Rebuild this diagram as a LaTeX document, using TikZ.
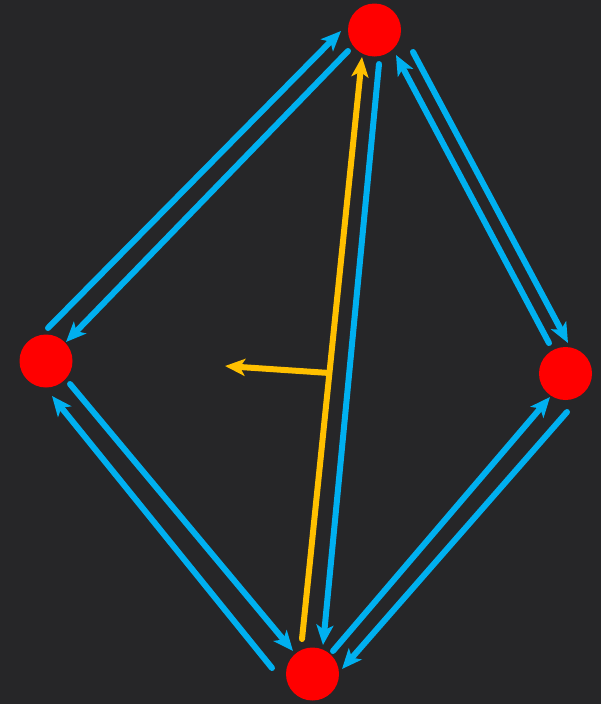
\documentclass[tikz,border=0pt]{standalone}
\usetikzlibrary{arrows.meta}
\definecolor{bgc}{RGB}{38,38,40}
\definecolor{bluec}{RGB}{0,176,240}
\definecolor{yelc}{RGB}{255,192,0}
\definecolor{redc}{RGB}{255,0,0}
\begin{document}
\begin{tikzpicture}[x=1pt,y=-1pt,
  vertex/.style={circle,fill=redc,draw=none,minimum size=53pt,inner sep=0pt},
  bluearrow/.style={draw=bluec,line width=6pt,line cap=round,-{Stealth[length=20pt,width=17pt,inset=5pt]}},
  yelarrow/.style={draw=yelc,line width=6pt,line cap=round,-{Stealth[length=20pt,width=17pt,inset=5pt]}}]
\fill[bgc] (0,0) rectangle (601,704);
\useasboundingbox (0,0) rectangle (601,704);
\node[vertex] (top) at (374.5,30) {};
\node[vertex] (left) at (46,361) {};
\node[vertex] (right) at (565.5,373.5) {};
\node[vertex] (bottom) at (312.5,674) {};
% top-left pair
\coordinate (a1) at (48,328); \coordinate (a2) at (341,31);
\coordinate (b1) at (348,51); \coordinate (b2) at (66,342);
% top-right pair
\coordinate (c1) at (413,52); \coordinate (c2) at (568,343);
\coordinate (d1) at (549,343); \coordinate (d2) at (396,55);
% right-bottom pair
\coordinate (e1) at (333,651); \coordinate (e2) at (550,397);
\coordinate (f1) at (567,412); \coordinate (f2) at (342,669);
% left-bottom pair
\coordinate (g1) at (70,384); \coordinate (g2) at (293,651);
\coordinate (h1) at (272,668); \coordinate (h2) at (52,396);
% middle
\coordinate (m1) at (379,64); \coordinate (m2) at (323,645);
\coordinate (y1) at (302,639); \coordinate (y2) at (362,57);
\coordinate (yb) at (329.3,373); \coordinate (yt) at (225,366);
\draw[bluearrow] (a1) -- (a2);
\draw[bluearrow] (b1) -- (b2);
\draw[bluearrow] (c1) -- (c2);
\draw[bluearrow] (d1) -- (d2);
\draw[bluearrow] (e1) -- (e2);
\draw[bluearrow] (f1) -- (f2);
\draw[bluearrow] (g1) -- (g2);
\draw[bluearrow] (h1) -- (h2);
\draw[bluearrow] (m1) -- (m2);
\draw[yelarrow] (y1) -- (y2);
\draw[yelarrow,line cap=butt] (yb) -- (yt);
\end{tikzpicture}
\end{document}
